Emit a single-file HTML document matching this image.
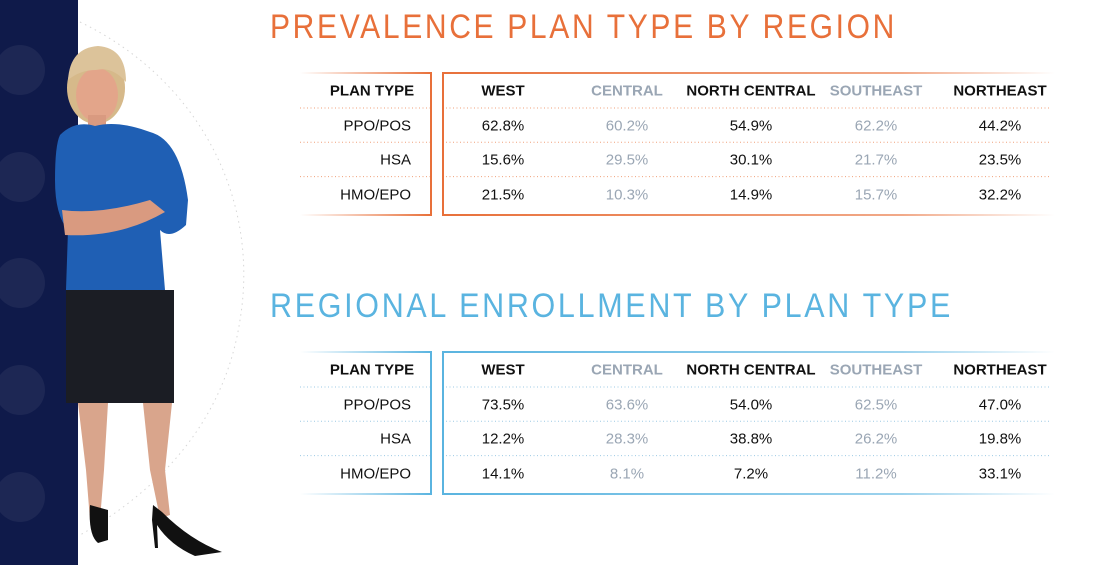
<!DOCTYPE html>
<html><head><meta charset="utf-8">
<style>
body{margin:0;width:1115px;height:565px;overflow:hidden;background:#fff;font-family:"Liberation Sans",sans-serif;position:relative}
.title{position:absolute;left:270px;font-size:34px;font-weight:300;letter-spacing:3px;white-space:nowrap;line-height:1;transform-origin:0 0}
.cell{position:absolute;font-size:15px;transform:translate(-50%,-50%);white-space:nowrap;color:#111}
.hdr{font-weight:bold;font-size:15px}
.grey{color:#9aa6b4}
.pt{transform:translate(-100%,-50%)}
</style></head>
<body>
<svg width="1115" height="565" style="position:absolute;left:0;top:0">
<defs>
<linearGradient id="ol" gradientUnits="userSpaceOnUse" x1="300" x2="431" y1="0" y2="0"><stop offset="0" stop-color="#e8703a" stop-opacity="0"/><stop offset="1" stop-color="#e8703a"/></linearGradient>
<linearGradient id="or" gradientUnits="userSpaceOnUse" x1="442" x2="1055" y1="0" y2="0"><stop offset="0" stop-color="#e8703a"/><stop offset="0.75" stop-color="#e8703a" stop-opacity="0.6"/><stop offset="1" stop-color="#e8703a" stop-opacity="0"/></linearGradient>
<linearGradient id="bl" gradientUnits="userSpaceOnUse" x1="300" x2="431" y1="0" y2="0"><stop offset="0" stop-color="#5ab4e0" stop-opacity="0"/><stop offset="1" stop-color="#5ab4e0"/></linearGradient>
<linearGradient id="br" gradientUnits="userSpaceOnUse" x1="442" x2="1055" y1="0" y2="0"><stop offset="0" stop-color="#5ab4e0"/><stop offset="0.75" stop-color="#5ab4e0" stop-opacity="0.6"/><stop offset="1" stop-color="#5ab4e0" stop-opacity="0"/></linearGradient>
</defs>
<rect x="0" y="0" width="78" height="565" fill="#0f1a4a"/>
<g fill="#fff" fill-opacity="0.06">
<circle cx="20" cy="70" r="25"/><circle cx="20" cy="177" r="25"/><circle cx="20" cy="283" r="25"/><circle cx="20" cy="390" r="25"/><circle cx="20" cy="497" r="25"/>
</g>
<path d="M80 22 C200 80 260 200 240 320 C225 420 160 490 80 535" fill="none" stroke="#d6d6d6" stroke-dasharray="1.5 4"/>
<g>
<ellipse cx="96" cy="88" rx="29" ry="36" fill="#d6b98a"/>
<ellipse cx="97" cy="95" rx="21" ry="27" fill="#e3a58a"/>
<path d="M68 80 Q70 48 98 46 Q126 48 126 82 Q112 66 96 70 Q80 70 68 80Z" fill="#dcc39a"/>
<rect x="88" y="115" width="18" height="14" fill="#d99a80"/>
<path d="M60 135 Q75 120 95 126 Q118 120 150 132 Q180 140 188 200 L186 225 Q170 240 160 230 L165 290 L66 290 L68 230 Q55 215 55 180 Q55 145 60 135Z" fill="#1f5fb4"/>
<path d="M62 210 Q100 215 150 200 L165 212 Q120 238 65 235Z" fill="#d99a80"/>
<rect x="66" y="290" width="108" height="113" fill="#1b1d24"/>
<path d="M78 403 L108 403 L104 470 L100 520 L90 520 L86 470Z" fill="#d9a58c"/>
<path d="M143 403 L172 403 L165 470 L170 515 L160 518 L150 470Z" fill="#d9a58c"/>
<path d="M90 505 Q88 535 98 543 L108 540 L108 510Z" fill="#111"/>
<path d="M153 505 L162 512 Q190 540 222 552 L195 556 Q170 545 157 525 L158 548 L155 548 L152 520Z" fill="#111"/>
</g>
<g stroke-width="2" fill="none">
<line x1="300" y1="73" x2="431" y2="73" stroke="url(#ol)"/>
<line x1="300" y1="215" x2="431" y2="215" stroke="url(#ol)"/>
<line x1="431" y1="72" x2="431" y2="216" stroke="#e8703a"/>
<line x1="442" y1="73" x2="1055" y2="73" stroke="url(#or)"/>
<line x1="442" y1="215" x2="1055" y2="215" stroke="url(#or)"/>
<line x1="443" y1="72" x2="443" y2="216" stroke="#e8703a"/>
</g>
<g stroke-width="2" fill="none">
<line x1="300" y1="352" x2="431" y2="352" stroke="url(#bl)"/>
<line x1="300" y1="494" x2="431" y2="494" stroke="url(#bl)"/>
<line x1="431" y1="351" x2="431" y2="495" stroke="#5ab4e0"/>
<line x1="442" y1="352" x2="1055" y2="352" stroke="url(#br)"/>
<line x1="442" y1="494" x2="1055" y2="494" stroke="url(#br)"/>
<line x1="443" y1="351" x2="443" y2="495" stroke="#5ab4e0"/>
</g>
<g id="dots"></g>
</svg>
<div class="title" id="t1" style="top:10px;color:#e8703a">PREVALENCE PLAN TYPE BY REGION</div>
<div class="title" id="t2" style="top:289px;color:#5ab4e0">REGIONAL ENROLLMENT BY PLAN TYPE</div>
<div id="tables"></div>
<script>
const regions=["WEST","CENTRAL","NORTH CENTRAL","SOUTHEAST","NORTHEAST"];
const planTypes=["PPO/POS","HSA","HMO/EPO"];
const prevalence=[[62.8,60.2,54.9,62.2,44.2],[15.6,29.5,30.1,21.7,23.5],[21.5,10.3,14.9,15.7,32.2]];
const enrollment=[[73.5,63.6,54.0,62.5,47.0],[12.2,28.3,38.8,26.2,19.8],[14.1,8.1,7.2,11.2,33.1]];
const colX=[503,627,751,876,1000];
[['t1',627],['t2',683]].forEach(a=>{const e=document.getElementById(a[0]);const w=e.getBoundingClientRect().width;e.style.transform='scaleX('+(a[1]/w)+')';});
const wrap=document.getElementById('tables');
const dots=document.getElementById('dots');
const NS="http://www.w3.org/2000/svg";
function mk(txt,x,y,cls,name){
  const d=document.createElement('div');
  d.className='cell '+cls;d.textContent=txt;
  d.style.left=x+'px';d.style.top=y+'px';
  
  
  wrap.appendChild(d);
}
function table(data,top,dotColor){
  mk("PLAN TYPE",372,top+19,'hdr','plan-type-header');
  regions.forEach((r,j)=>mk(r,colX[j],top+19,'hdr'+(j%2?' grey':''),'region-header'));
  planTypes.forEach((p,i)=>{
    const y=top+54+i*34.3;
    mk(p,411,y,'pt','plan-type-label');
    data[i].forEach((v,j)=>mk(v.toFixed(1)+'%',colX[j],y,j%2?'grey':'','value-cell'));
  });
  for(let i=0;i<3;i++){
    const y=top+36+i*34.3;
    [[300,430],[446,1050]].forEach(s=>{
      const l=document.createElementNS(NS,'line');
      l.setAttribute('x1',s[0]);l.setAttribute('x2',s[1]);l.setAttribute('y1',y);l.setAttribute('y2',y);
      l.setAttribute('stroke',dotColor);l.setAttribute('stroke-dasharray','1 2.5');l.setAttribute('stroke-width','1');
      
      
      dots.appendChild(l);
    });
  }
}
table(prevalence,72,'#f0a07a');
table(enrollment,351,'#9cc9e4');
</script>
</body></html>
